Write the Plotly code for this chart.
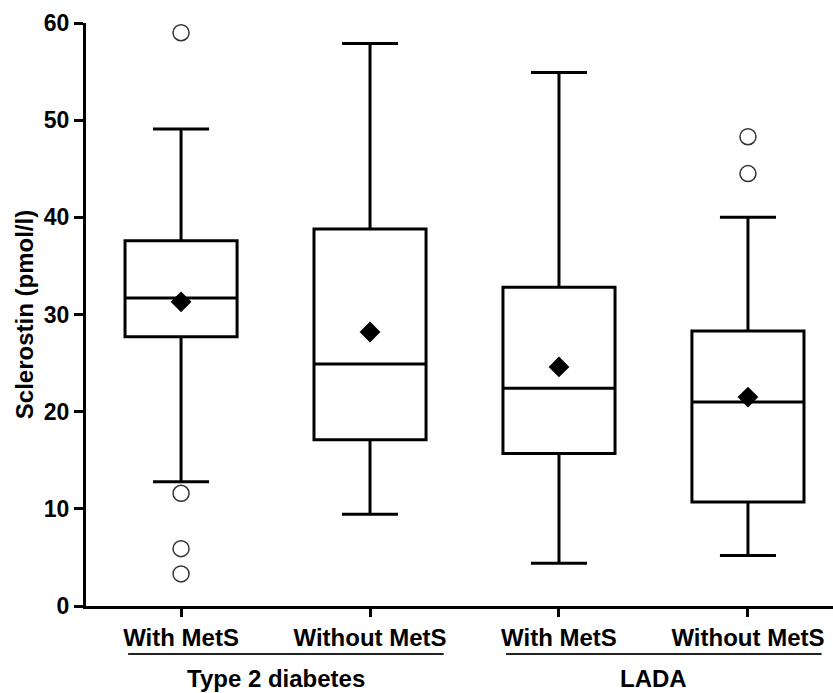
import plotly.graph_objects as go

# ---- data ----
categories = ["With MetS", "Without MetS", "With MetS", "Without MetS"]
positions = [0, 1, 2, 3]
q1 = [27.7, 17.1, 15.7, 10.7]
median = [31.7, 24.9, 22.4, 21.0]
q3 = [37.6, 38.8, 32.8, 28.3]
lower_whisker = [12.8, 9.45, 4.4, 5.2]
upper_whisker = [49.1, 57.9, 54.9, 40.0]
means = [31.3, 28.2, 24.6, 21.5]
outlier_pos = [0, 0, 0, 0, 3, 3]
outlier_vals = [59.0, 11.6, 5.9, 3.3, 48.3, 44.5]
groups = ["Type 2 diabetes", "LADA"]
group_members = [[0, 1], [2, 3]]

FONT = "Liberation Sans, Arial, Helvetica, sans-serif"

fig = go.Figure()

fig.add_trace(go.Box(
    x=positions, q1=q1, median=median, q3=q3,
    lowerfence=lower_whisker, upperfence=upper_whisker,
    width=0.593, whiskerwidth=0.5,
    line=dict(color="black", width=3),
    fillcolor="white", boxpoints=False, showlegend=False,
    hoverinfo="skip",
))

fig.add_trace(go.Scatter(
    x=positions, y=means, mode="markers",
    marker=dict(symbol="diamond", size=16, color="black", line=dict(width=0)),
    showlegend=False, cliponaxis=False,
))

fig.add_trace(go.Scatter(
    x=outlier_pos, y=outlier_vals, mode="markers",
    marker=dict(symbol="circle-open", size=16, color="#333333", line=dict(width=1.5)),
    showlegend=False, cliponaxis=False,
))

# group separators and labels below the axis
line_y = -0.0823
for name, members in zip(groups, group_members):
    x0 = min(members) - 0.28
    x1 = max(members) + 0.39
    fig.add_shape(type="line", xref="x", yref="paper", x0=x0, x1=x1,
                  y0=line_y, y1=line_y, line=dict(color="#222222", width=2))
    fig.add_annotation(text="<b>%s</b>" % name, xref="x", yref="paper",
                       x=sum(members) / len(members), y=-0.097,
                       xanchor="center", yanchor="top", showarrow=False,
                       font=dict(family=FONT, size=24, color="black"))

fig.update_layout(
    width=833, height=693,
    margin=dict(l=86, r=0, t=23, b=87),
    paper_bgcolor="white", plot_bgcolor="white",
    font=dict(family=FONT, color="black", weight="bold"),
    xaxis=dict(
        range=[-0.503, 3.45], tickmode="array", tickvals=positions,
        ticktext=["<b>%s</b>" % c for c in categories],
        showline=True, linewidth=3, linecolor="black", ticks="outside",
        ticklen=8, tickwidth=3, tickcolor="black", showgrid=False, zeroline=False,
        tickfont=dict(family=FONT, size=24, color="black"),
    ),
    yaxis=dict(
        range=[0, 60], dtick=10, tick0=0,
        showline=True, linewidth=3, linecolor="black", ticks="outside",
        ticklen=9, tickwidth=3, tickcolor="black", showgrid=False, zeroline=False,
        tickfont=dict(family=FONT, size=23, color="black", weight="bold"),
        title=dict(text="<b>Sclerostin (pmol/l)</b>", standoff=4,
                   font=dict(family=FONT, size=24, color="black")),
    ),
)

fig.write_html("out.html")
